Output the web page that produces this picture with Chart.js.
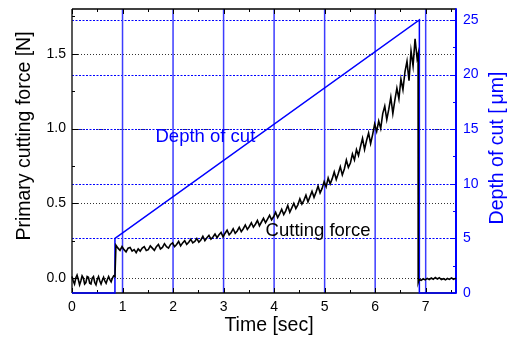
<!DOCTYPE html>
<html>
<head>
<meta charset="utf-8">
<script src="https://cdn.jsdelivr.net/npm/chart.js@4"></script>
<style>
html, body { margin: 0; padding: 0; background: #fff; }
#wrap { width: 515px; height: 340px; }
</style>
</head>
<body>
<div id="wrap"><canvas id="c" width="515" height="340"></canvas></div>
<script>
// Sample times of the force signal [s]
const forceTime = [
  0, 0.025, 0.05, 0.075, 0.1, 0.125, 0.15, 0.175, 0.2, 0.225,
  0.25, 0.275, 0.3, 0.325, 0.35, 0.375, 0.4, 0.425, 0.45, 0.475,
  0.5, 0.525, 0.55, 0.575, 0.6, 0.625, 0.65, 0.675, 0.7, 0.725,
  0.75, 0.775, 0.8, 0.825, 0.85,
  0.87, 0.91, 0.95, 0.99, 1.03, 1.07, 1.11, 1.15, 1.19, 1.23,
  1.27, 1.31, 1.35, 1.39, 1.43, 1.47, 1.51, 1.55, 1.59, 1.63,
  1.67, 1.71, 1.75, 1.79, 1.83, 1.87, 1.91, 1.95, 1.99, 2.03,
  2.07, 2.11, 2.15, 2.19, 2.23, 2.27, 2.31, 2.35, 2.39, 2.43,
  2.47, 2.51, 2.55, 2.59, 2.63, 2.67, 2.71, 2.75, 2.79, 2.83,
  2.87, 2.91, 2.95, 2.99, 3.03, 3.07, 3.11, 3.15, 3.19, 3.23,
  3.27, 3.31, 3.35, 3.39, 3.43, 3.47, 3.51, 3.55, 3.59, 3.63,
  3.67, 3.71, 3.75, 3.79, 3.83, 3.87, 3.91, 3.95, 3.99, 4.03,
  4.07, 4.11, 4.15, 4.19, 4.23, 4.27, 4.31, 4.35, 4.39, 4.43,
  4.47, 4.51, 4.55, 4.59, 4.63, 4.67, 4.71, 4.75, 4.79, 4.83,
  4.87, 4.91, 4.95, 4.99, 5.03, 5.07, 5.11, 5.15, 5.19, 5.23,
  5.27, 5.31, 5.35, 5.39, 5.43, 5.47, 5.51, 5.55, 5.59, 5.63,
  5.67, 5.71, 5.75, 5.79, 5.83, 5.87, 5.91, 5.95, 5.99, 6.03,
  6.07, 6.11, 6.15, 6.19, 6.23, 6.27, 6.31, 6.35, 6.39, 6.43,
  6.47, 6.51, 6.55, 6.59, 6.63, 6.67, 6.71, 6.75, 6.79, 6.83,
  6.85, 6.852,
  6.87, 6.91, 6.95, 6.99, 7.03, 7.07, 7.11, 7.15, 7.19, 7.23,
  7.27, 7.31, 7.35, 7.39, 7.43, 7.47, 7.51, 7.55, 7.59, 7.6
];

// Primary cutting force [N]
const forceN = [
  0.01, -0.02, -0.04, 0.00, 0.02, -0.01, -0.045, -0.02, 0.015, 0.00,
  -0.04, -0.03, 0.01, 0.005, -0.035, -0.04, 0.00, 0.01, -0.03, -0.045,
  -0.01, 0.01, -0.02, -0.04, -0.015, 0.005, -0.02, -0.035, -0.01, 0.01,
  -0.01, -0.025, 0.00, 0.015, 0.01,
  0.22, 0.20, 0.185, 0.21, 0.19, 0.175, 0.20, 0.205, 0.18, 0.19,
  0.17, 0.195, 0.18, 0.20, 0.21, 0.185, 0.19, 0.215, 0.20, 0.185,
  0.21, 0.225, 0.195, 0.205, 0.23, 0.21, 0.20, 0.225, 0.235, 0.21,
  0.225, 0.245, 0.215, 0.235, 0.25, 0.225, 0.24, 0.26, 0.235, 0.245,
  0.265, 0.24, 0.255, 0.28, 0.25, 0.27, 0.285, 0.26, 0.275, 0.295,
  0.27, 0.29, 0.305, 0.275, 0.30, 0.32, 0.29, 0.305, 0.33, 0.30,
  0.315, 0.34, 0.31, 0.33, 0.355, 0.325, 0.345, 0.37, 0.34, 0.36,
  0.385, 0.35, 0.375, 0.40, 0.37, 0.395, 0.42, 0.39, 0.41, 0.44,
  0.405, 0.43, 0.46, 0.425, 0.45, 0.485, 0.44, 0.47, 0.50, 0.465,
  0.49, 0.53, 0.495, 0.52, 0.555, 0.51, 0.545, 0.58, 0.54, 0.575,
  0.615, 0.57, 0.60, 0.645, 0.61, 0.67, 0.63, 0.665, 0.71, 0.66,
  0.70, 0.745, 0.69, 0.73, 0.79, 0.74, 0.77, 0.83, 0.79, 0.86,
  0.82, 0.88, 0.935, 0.86, 0.92, 0.97, 0.90, 0.96, 1.03, 0.98,
  1.05, 1.00, 1.10, 1.15, 1.06, 1.13, 1.21, 1.10, 1.19, 1.27,
  1.20, 1.33, 1.26, 1.38, 1.45, 1.32, 1.52, 1.42, 1.60, 1.47,
  1.50, -0.03,
  -0.01, -0.015, -0.005, -0.012, -0.002, -0.01, 0.00, -0.008, 0.004, -0.006,
  0.002, -0.01, -0.004, -0.012, -0.003, -0.009, 0.001, -0.008, -0.002, -0.005
];

// Commanded depth of cut [µm]
const depthTime = [0, 0.85, 0.85, 6.875, 6.875, 7.6];
const depthUm   = [0, 0, 5, 25, 0, 0];

// Axis ticks
const timeTicks = [0, 1, 2, 3, 4, 5, 6, 7];
const timeMinorTicks = [0.5, 1.5, 2.5, 3.5, 4.5, 5.5, 6.5, 7.5];
const timeGridLines = [1, 2, 3, 4, 5, 6, 7];
const forceTicks = [0, 0.5, 1.0, 1.5];
const forceTickLabels = ['0.0', '0.5', '1.0', '1.5'];
const forceMinorTicks = [0.25, 0.75, 1.25, 1.75];
const depthTicks = [0, 5, 10, 15, 20, 25];
const depthMinorTicks = [2.5, 7.5, 12.5, 17.5, 22.5];

const FONT = '"Liberation Sans", Arial, sans-serif';
const BLUE = '#0000ff';

function seg(ctx, x1, y1, x2, y2) {
  ctx.beginPath();
  ctx.moveTo(x1, y1);
  ctx.lineTo(x2, y2);
  ctx.stroke();
}

// Grid, frame and inward tick marks, drawn beneath the curves
const framePlugin = {
  id: 'frame',
  beforeDatasetsDraw(chart) {
    const { ctx, chartArea: a, scales } = chart;
    const x = scales.x, yF = scales.yF, yD = scales.yD;
    ctx.save();

    // horizontal dotted grid of the force axis
    ctx.lineWidth = 1;
    ctx.strokeStyle = '#333';
    ctx.setLineDash([1, 2]);
    forceTicks.forEach(v => {
      const y = Math.round(yF.getPixelForValue(v)) + 0.5;
      seg(ctx, a.left, y, a.right, y);
    });

    // horizontal dotted grid of the depth axis
    ctx.strokeStyle = BLUE;
    ctx.setLineDash([2, 1.5]);
    depthTicks.filter(v => v > 0).forEach(v => {
      const y = Math.round(yD.getPixelForValue(v)) + 0.5;
      seg(ctx, a.left, y, a.right, y);
    });

    // vertical solid grid at whole seconds
    ctx.setLineDash([]);
    ctx.strokeStyle = '#3c3cff';
    ctx.lineWidth = 1.5;
    timeGridLines.forEach(v => {
      const px = x.getPixelForValue(v);
      seg(ctx, px, a.top, px, a.bottom);
    });

    // frame
    ctx.lineWidth = 1.5;
    ctx.strokeStyle = '#000';
    seg(ctx, a.left, a.top, a.right, a.top);
    seg(ctx, a.left, a.bottom, a.right, a.bottom);
    ctx.strokeStyle = '#222';
    seg(ctx, a.left, a.top, a.left, a.bottom);
    ctx.strokeStyle = BLUE;
    ctx.lineWidth = 2;
    seg(ctx, a.right, a.top - 0.75, a.right, a.bottom + 0.75);

    // time ticks (bottom and top, pointing inward)
    ctx.lineWidth = 1;
    ctx.strokeStyle = '#000';
    timeTicks.forEach(v => {
      const px = Math.round(x.getPixelForValue(v)) + 0.5;
      seg(ctx, px, a.bottom, px, a.bottom - 5);
      seg(ctx, px, a.top, px, a.top + 5);
    });
    timeMinorTicks.forEach(v => {
      const px = Math.round(x.getPixelForValue(v)) + 0.5;
      seg(ctx, px, a.bottom, px, a.bottom - 3);
      seg(ctx, px, a.top, px, a.top + 3);
    });

    // force ticks
    forceTicks.forEach(v => {
      const py = Math.round(yF.getPixelForValue(v)) + 0.5;
      seg(ctx, a.left, py, a.left + 6, py);
    });
    forceMinorTicks.forEach(v => {
      const py = Math.round(yF.getPixelForValue(v)) + 0.5;
      seg(ctx, a.left, py, a.left + 3, py);
    });

    // depth ticks
    ctx.strokeStyle = BLUE;
    depthTicks.forEach(v => {
      const py = Math.round(yD.getPixelForValue(v)) + 0.5;
      seg(ctx, a.right, py, a.right - 6, py);
    });
    depthMinorTicks.forEach(v => {
      const py = Math.round(yD.getPixelForValue(v)) + 0.5;
      seg(ctx, a.right, py, a.right - 3, py);
    });

    ctx.restore();
  },

  // Tick labels, axis titles and curve labels
  afterDraw(chart) {
    const { ctx, chartArea: a, scales } = chart;
    const x = scales.x, yF = scales.yF, yD = scales.yD;
    ctx.save();

    ctx.font = '14px ' + FONT;
    ctx.fillStyle = '#000';
    ctx.textAlign = 'center';
    ctx.textBaseline = 'middle';
    timeTicks.forEach(v => {
      ctx.fillText(String(v), x.getPixelForValue(v), a.bottom + 14);
    });

    ctx.textAlign = 'right';
    forceTicks.forEach((v, i) => {
      ctx.fillText(forceTickLabels[i], a.left - 6, yF.getPixelForValue(v));
    });

    ctx.fillStyle = BLUE;
    ctx.textAlign = 'left';
    depthTicks.forEach(v => {
      ctx.fillText(String(v), a.right + 7, yD.getPixelForValue(v));
    });

    // axis titles
    ctx.font = '19.5px ' + FONT;
    ctx.fillStyle = '#000';
    ctx.textAlign = 'center';
    ctx.fillText('Time [sec]', a.left + 197, a.bottom + 33);

    ctx.save();
    ctx.translate(25, a.top + 127);
    ctx.rotate(-Math.PI / 2);
    ctx.fillText('Primary cutting force [N]', 0, 0);
    ctx.restore();

    ctx.save();
    ctx.fillStyle = BLUE;
    ctx.translate(498, a.top + 139);
    ctx.rotate(-Math.PI / 2);
    ctx.fillText('Depth of cut [\u2009\u03bcm]', 0, 0);
    ctx.restore();

    // curve labels
    ctx.font = '18.5px ' + FONT;
    ctx.fillStyle = BLUE;
    ctx.fillText('Depth of cut', x.getPixelForValue(2.64), yF.getPixelForValue(0.944));
    ctx.fillStyle = '#000';
    ctx.fillText('Cutting force', x.getPixelForValue(4.87), yF.getPixelForValue(0.316));

    ctx.restore();
  }
};

new Chart(document.getElementById('c'), {
  type: 'line',
  data: {
    datasets: [
      {
        label: 'Cutting force',
        data: forceTime.map((t, i) => ({ x: t, y: forceN[i] })),
        xAxisID: 'x',
        yAxisID: 'yF',
        borderColor: '#000',
        borderWidth: 1.6,
        pointRadius: 0,
        tension: 0,
        clip: 3
      },
      {
        label: 'Depth of cut',
        data: depthTime.map((t, i) => ({ x: t, y: depthUm[i] })),
        xAxisID: 'x',
        yAxisID: 'yD',
        borderColor: BLUE,
        borderWidth: 1.5,
        pointRadius: 0,
        tension: 0,
        clip: 3
      }
    ]
  },
  options: {
    responsive: false,
    animation: false,
    devicePixelRatio: 1,
    layout: { padding: { left: 72, right: 59, top: 9, bottom: 47 } },
    plugins: { legend: { display: false }, tooltip: { enabled: false } },
    scales: {
      x: { type: 'linear', min: 0, max: 7.6, display: false },
      yF: { type: 'linear', position: 'left', min: -0.1, max: 1.8, display: false },
      yD: { type: 'linear', position: 'right', min: 0, max: 26, display: false }
    }
  },
  plugins: [framePlugin]
});
</script>
</body>
</html>
